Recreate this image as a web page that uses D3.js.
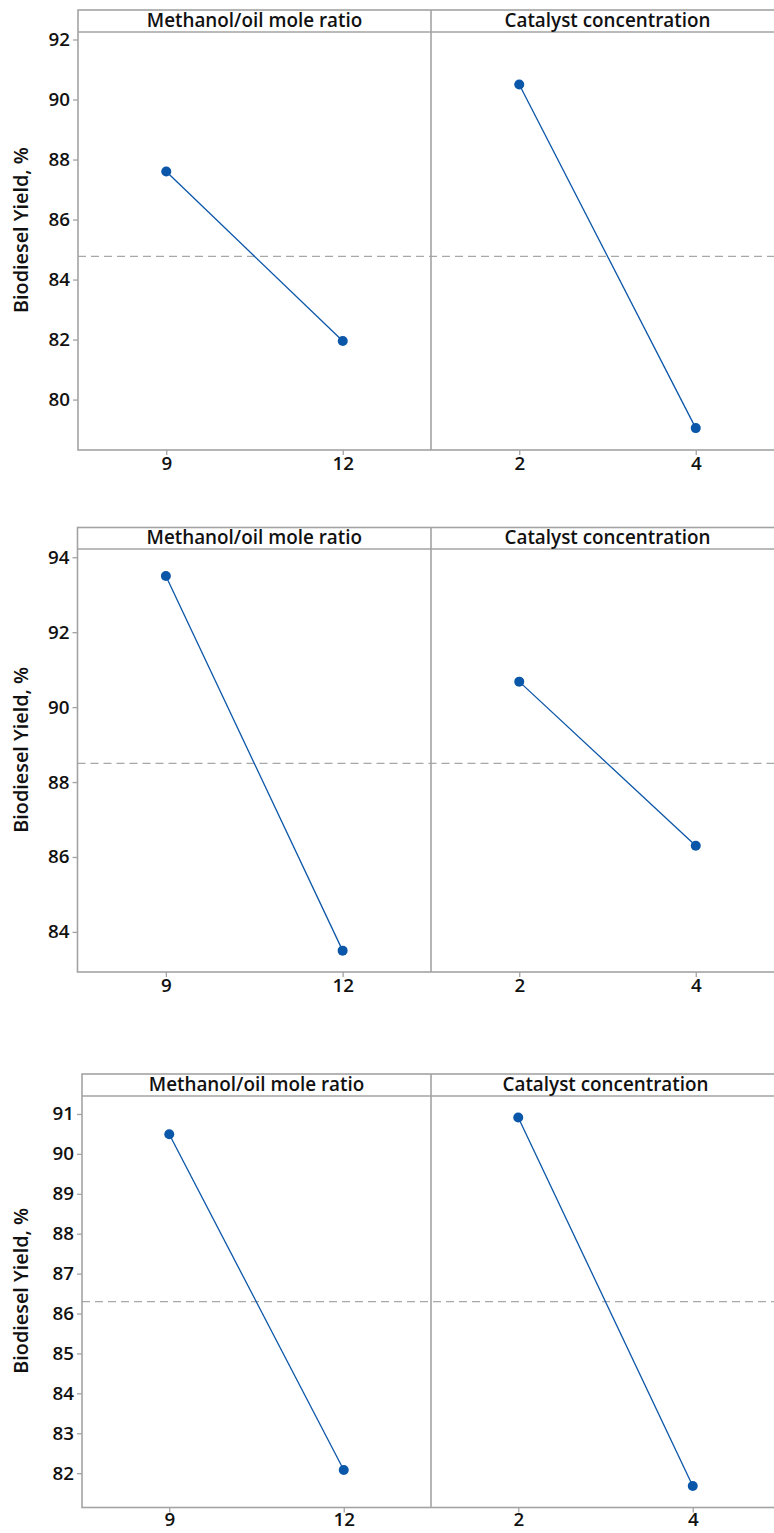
<!DOCTYPE html>
<html><head><meta charset="utf-8">
<script src="https://cdn.jsdelivr.net/npm/d3@7"></script>
<style>
html,body{margin:0;padding:0;background:#fff;}
svg{display:block;}
text{font-family:"Open Sans","Noto Sans",sans-serif;font-weight:600;fill:#111;}
</style></head>
<body>
<svg id="chart" width="774" height="1533"></svg>
<script>
// ---- data ----
const factors = ["Methanol/oil mole ratio", "Catalyst concentration"];
const ratioLevels = ["9", "12"];
const catalystLevels = ["2", "4"];
const yTitle = "Biodiesel Yield, %";

const p1Ratio = [87.6, 81.95];
const p1Catalyst = [90.5, 79.05];
const p1Mean = 84.77;
const p1Ticks = [80, 82, 84, 86, 88, 90, 92];
const p1Domain = [78.32, 92.25];

const p2Ratio = [93.5, 83.5];
const p2Catalyst = [90.68, 86.3];
const p2Mean = 88.5;
const p2Ticks = [84, 86, 88, 90, 92, 94];
const p2Domain = [82.93, 94.22];

const p3Ratio = [90.49, 82.08];
const p3Catalyst = [90.91, 81.68];
const p3Mean = 86.3;
const p3Ticks = [82, 83, 84, 85, 86, 87, 88, 89, 90, 91];
const p3Domain = [81.14, 91.45];

// ---- layout ----
const panels = [
  {ratio: p1Ratio, cat: p1Catalyst, mean: p1Mean, ticks: p1Ticks, domain: p1Domain,
   top: 10, header: 22, bottom: 450, left: 78, mid: 431, right: 784, xpad: 2},
  {ratio: p2Ratio, cat: p2Catalyst, mean: p2Mean, ticks: p2Ticks, domain: p2Domain,
   top: 527.5, header: 21.5, bottom: 972, left: 77.5, mid: 431, right: 784, xpad: 2},
  {ratio: p3Ratio, cat: p3Catalyst, mean: p3Mean, ticks: p3Ticks, domain: p3Domain,
   top: 1074, header: 22, bottom: 1507.5, left: 82, mid: 431, right: 780, xpad: 0}
];

const frameColor = "#a3a3a3";
const lineColor = "#0a56a8";
const svg = d3.select("#chart");

// measure helper: font size giving target width
function fitSize(str, target) {
  const t = svg.append("text").attr("font-size", 20).text(str);
  const w = t.node().getComputedTextLength();
  t.remove();
  return 20 * target / w;
}
const tickSize = fitSize("94", 21.5);
const titleSize = fitSize(yTitle, 166);
const headSize = (fitSize(factors[0], 218) + fitSize(factors[1], 204)) / 2;

panels.forEach(p => {
  const g = svg.append("g");
  const plotTop = p.top + p.header;
  const y = d3.scaleLinear().domain(p.domain).range([p.bottom, plotTop]);

  // mean reference line (dashed) across both halves
  g.append("line")
    .attr("x1", p.left).attr("x2", p.right)
    .attr("y1", y(p.mean)).attr("y2", y(p.mean))
    .attr("stroke", "#a8a8a8").attr("stroke-width", 1.3)
    .attr("stroke-dasharray", "8,5");

  // frame
  g.append("rect")
    .attr("x", p.left).attr("y", p.top)
    .attr("width", p.right - p.left).attr("height", p.bottom - p.top)
    .attr("fill", "none").attr("stroke", frameColor).attr("stroke-width", 1.6);
  g.append("line")
    .attr("x1", p.left).attr("x2", p.right)
    .attr("y1", plotTop).attr("y2", plotTop)
    .attr("stroke", frameColor).attr("stroke-width", 1.6);
  g.append("line")
    .attr("x1", p.mid).attr("x2", p.mid)
    .attr("y1", p.top).attr("y2", p.bottom)
    .attr("stroke", frameColor).attr("stroke-width", 1.6);

  // y axis
  const yAxis = d3.axisLeft(y).tickValues(p.ticks).tickSize(5).tickPadding(3).tickFormat(d3.format("d"));
  const ya = g.append("g").attr("transform", `translate(${p.left},0)`).call(yAxis);
  ya.select(".domain").remove();
  ya.selectAll(".tick line").attr("stroke", frameColor).attr("stroke-width", 1.3);
  ya.selectAll(".tick text").attr("font-size", tickSize).attr("font-family", null).style("fill", "#111");

  // y title
  g.append("text")
    .attr("transform", `translate(23,${(p.top + p.bottom) / 2}) rotate(-90)`)
    .attr("text-anchor", "middle").attr("dominant-baseline", "middle")
    .attr("font-size", titleSize).text(yTitle);

  // two halves
  const halves = [
    {name: factors[0], levels: ratioLevels, vals: p.ratio, x0: p.left, x1: p.mid},
    {name: factors[1], levels: catalystLevels, vals: p.cat, x0: p.mid, x1: p.right}
  ];
  halves.forEach(h => {
    const x = d3.scalePoint().domain(h.levels).range([h.x0, h.x1]).padding(0.5);
    const xa = g.append("g").attr("transform", `translate(0,${p.bottom})`)
      .call(d3.axisBottom(x).tickSize(5).tickPadding(p.xpad));
    xa.select(".domain").remove();
    xa.selectAll(".tick line").attr("stroke", frameColor).attr("stroke-width", 1.3);
    xa.selectAll(".tick text").attr("font-size", tickSize).attr("font-family", null).style("fill", "#111");

    g.append("text")
      .attr("x", (h.x0 + h.x1) / 2)
      .attr("y", p.top + p.header / 2 + 1)
      .attr("text-anchor", "middle").attr("dominant-baseline", "middle")
      .attr("font-size", headSize).text(h.name);

    const pts = h.levels.map((l, i) => [x(l), y(h.vals[i])]);
    g.append("path").attr("d", d3.line()(pts))
      .attr("fill", "none").attr("stroke", lineColor).attr("stroke-width", 1.3);
    g.selectAll(null).data(pts).enter().append("circle")
      .attr("cx", d => d[0]).attr("cy", d => d[1]).attr("r", 5)
      .attr("fill", lineColor);
  });
});
</script>
</body></html>
